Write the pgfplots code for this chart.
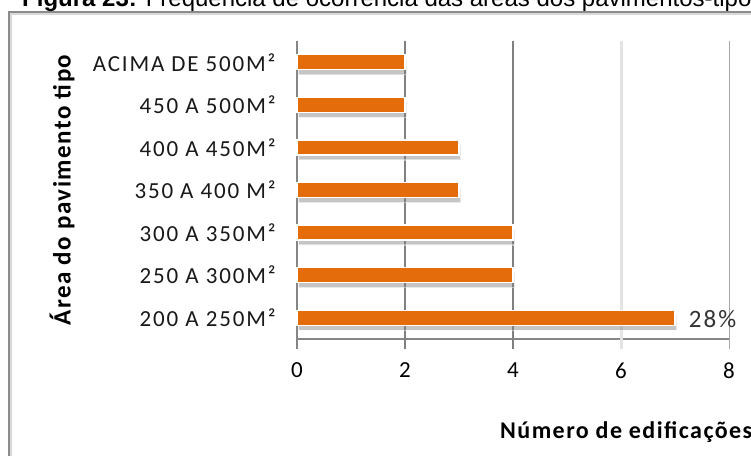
\documentclass[border=0pt]{standalone}
\usepackage{fontspec}
\setmainfont{Carlito}
\newfontfamily\labelfont[LetterSpace=8]{Carlito}
\newfontfamily\boldlabelfont[LetterSpace=6]{Carlito}
\newfontfamily\titlefont{Liberation Sans}
\usepackage{pgfplots}
\pgfplotsset{compat=1.18}
\usetikzlibrary{shadows}
\definecolor{barorange}{HTML}{E46C0A}
\definecolor{axisgray}{HTML}{868686}
\definecolor{framegray}{HTML}{8C8C8C}

\begin{document}
\begin{tikzpicture}
\useasboundingbox (0,0) rectangle (751bp,-456bp);
\clip (0,0) rectangle (751bp,-456bp);
\fill[white] (0,0) rectangle (751bp,-456bp);
% outer frame of the chart area
\draw[framegray, line width=2bp] (9bp,-470bp) -- (9bp,-12bp) -- (770bp,-12bp);
\draw[black!15, line width=1.5bp] (11bp,-470bp) -- (11bp,-14bp) -- (770bp,-14bp);
% caption above the chart
\node[anchor=base west, inner sep=0pt, font=\titlefont\fontsize{24bp}{28bp}\selectfont]
  at (22bp,-6bp) {\textbf{Figura 23:} Frequência de ocorrência das áreas dos pavimentos-tipo};
% axis titles
\node[rotate=90, font=\boldlabelfont\bfseries\fontsize{25bp}{28bp}\selectfont] at (62bp,-190bp) {Área do pavimento tipo};
\node[anchor=base west, inner sep=0pt, font=\boldlabelfont\bfseries\fontsize{24bp}{26bp}\selectfont] at (500bp,-438bp) {Número de edificações};

\begin{axis}[
  at={(297bp,-339bp)}, anchor=south west, scale only axis,
  width=432bp, height=298bp,
  xmin=0, xmax=8, ymin=-0.5, ymax=6.5,
  axis x line*=bottom, axis y line*=left,
  axis line style={draw=axisgray, line width=1.2bp, -},
  /pgf/number format/assume math mode=true,
  major tick length=0pt,
  xtick={0,2,4,6,8}, xtick style={draw=none},
  xticklabel style={font=\labelfont\fontsize{23bp}{24bp}\selectfont, yshift=-20bp},
  ytick={0,...,6}, ytick style={draw=none},
  yticklabels={200 A 250M², 250 A 300M², 300 A 350M², 350 A 400 M², 400 A 450M², 450 A 500M², ACIMA DE 500M²},
  yticklabel style={font=\labelfont\fontsize{23bp}{24bp}\selectfont, anchor=east, xshift=-18bp, text=black!90},
  minor ytick={-0.5,0.5,...,6.5},
  minor tick length=8bp, tick align=outside,
  minor tick style={draw=axisgray, line width=1.2bp},
  clip=false,
]
% vertical grid lines, each continuing below the axis as a tick
\draw[axisgray, line width=1.2bp] ([yshift=-10bp]axis cs:0,-0.5) -- (axis cs:0,-0.5);
\draw[black!50, line width=1.6bp] ([yshift=-10bp]axis cs:2,-0.5) -- (axis cs:2,6.5);
\draw[black!50, line width=1.6bp] ([yshift=-10bp]axis cs:4,-0.5) -- (axis cs:4,6.5);
\draw[black!11, line width=3bp] ([yshift=-10bp]axis cs:6,-0.5) -- (axis cs:6,6.5);
\draw[black!35, line width=1bp] ([yshift=-10bp]axis cs:8,-0.5) -- (axis cs:8,6.5);
\addplot[xbar, bar width=15bp, fill=barorange, draw=white, line width=1.2bp,
  drop shadow={shadow xshift=1.5bp, shadow yshift=-5bp, opacity=0.45},
  nodes near coords, point meta=explicit symbolic,
  every node near coord/.append style={anchor=west, xshift=10bp, yshift=-1bp,
    font=\labelfont\fontsize{25bp}{27bp}\selectfont, text=black!80}]
  coordinates {(7,0) [28\%] (4,1) [] (4,2) [] (3,3) [] (3,4) [] (2,5) [] (2,6) []};
\end{axis}
\end{tikzpicture}
\end{document}
